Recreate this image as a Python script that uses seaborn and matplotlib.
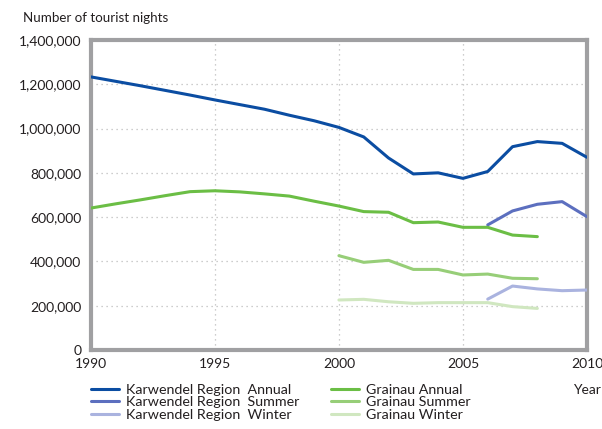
import matplotlib
matplotlib.use("Agg")
import matplotlib.pyplot as plt
import numpy as np
import pandas as pd
import seaborn as sns
from matplotlib.ticker import FuncFormatter

# Tourist nights per year
years_full = list(range(1990, 2011))
karwendel_annual = [1233000, 1213000, 1193000, 1172000, 1151000, 1129000, 1108000,
                    1087000, 1060000, 1035000, 1005000, 962000, 867000, 795000,
                    800000, 775000, 806000, 918000, 941000, 933000, 870000]

years_k_season = [2006, 2007, 2008, 2009, 2010]
karwendel_summer = [565000, 628000, 658000, 670000, 602000]
karwendel_winter = [230000, 289000, 276000, 268000, 271000]

years_grainau = list(range(1990, 2009))
grainau_annual = [641000, 660000, 678000, 697000, 715000, 719000, 714000, 705000,
                  695000, 672000, 650000, 625000, 622000, 575000, 578000, 554000,
                  554000, 519000, 512000]

years_g_season = list(range(2000, 2009))
grainau_summer = [426000, 396000, 405000, 364000, 364000, 339000, 343000, 324000, 322000]
grainau_winter = [226000, 229000, 218000, 211000, 214000, 214000, 214000, 196000, 188000]

series_names = ["Karwendel Region  Annual", "Karwendel Region  Summer",
                "Karwendel Region  Winter", "Grainau Annual",
                "Grainau Summer", "Grainau Winter"]
series_colors = ["#0B4DA2", "#5C6FBF", "#AAB3DF", "#6BBE45", "#97CE78", "#D0E7C0"]

frames = []
for name, yrs, vals in [
    (series_names[0], years_full, karwendel_annual),
    (series_names[1], years_k_season, karwendel_summer),
    (series_names[2], years_k_season, karwendel_winter),
    (series_names[3], years_grainau, grainau_annual),
    (series_names[4], years_g_season, grainau_summer),
    (series_names[5], years_g_season, grainau_winter),
]:
    frames.append(pd.DataFrame({"year": yrs, "nights": vals, "series": name}))
df = pd.concat(frames, ignore_index=True)

sns.set_style("white")
plt.rcParams["font.family"] = ["Lato", "DejaVu Sans"]

fig = plt.figure(figsize=(6.02, 4.29), dpi=100)
ax = fig.add_axes([0.151, 0.184, 0.824, 0.723])

sns.lineplot(data=df, x="year", y="nights", hue="series", hue_order=series_names,
             palette=dict(zip(series_names, series_colors)), linewidth=2.2,
             legend=False, ax=ax, zorder=3)

ax.set_xlim(1990, 2010)
ax.set_ylim(0, 1400000)
ax.set_xticks([1990, 1995, 2000, 2005, 2010])
ax.set_yticks(np.arange(0, 1400001, 200000))
ax.yaxis.set_major_formatter(FuncFormatter(lambda v, p: f"{int(v):,}"))
ax.tick_params(axis="both", length=0, labelsize=10, colors="#231F20")
ax.tick_params(axis="y", pad=7)
ax.tick_params(axis="x", pad=6)
ax.set_xlabel("")
ax.set_ylabel("")

# Dotted grid inside the frame
for yv in range(200000, 1400000, 200000):
    ax.axhline(yv, color="#BDBDBD", linestyle=(0, (1, 3)), linewidth=0.9, zorder=1)
for xv in [1995, 2000, 2005]:
    ax.axvline(xv, color="#BDBDBD", linestyle=(0, (1, 3)), linewidth=0.9, zorder=1)

for side in ["left", "right", "top", "bottom"]:
    ax.spines[side].set_visible(True)
    ax.spines[side].set_color("#A0A0A2")
    ax.spines[side].set_linewidth(3)

fig.text(0.038, 0.958, "Number of tourist nights", fontsize=9.6, color="#231F20",
         ha="left", va="center")
fig.text(0.998, 0.092, "Year", fontsize=10, color="#231F20", ha="right", va="center")

handles = [plt.Line2D([], [], color=c, linewidth=2.2) for c in series_colors]
ax.legend(handles, series_names, ncol=2, frameon=False, fontsize=10.3,
          loc="upper left", bbox_to_anchor=(0.0, -0.108),
          handlelength=1.95, handletextpad=0.5, labelspacing=0.04,
          columnspacing=2.2, borderaxespad=0, borderpad=0,
          labelcolor="#231F20")

fig.savefig("out.png", dpi=100)
